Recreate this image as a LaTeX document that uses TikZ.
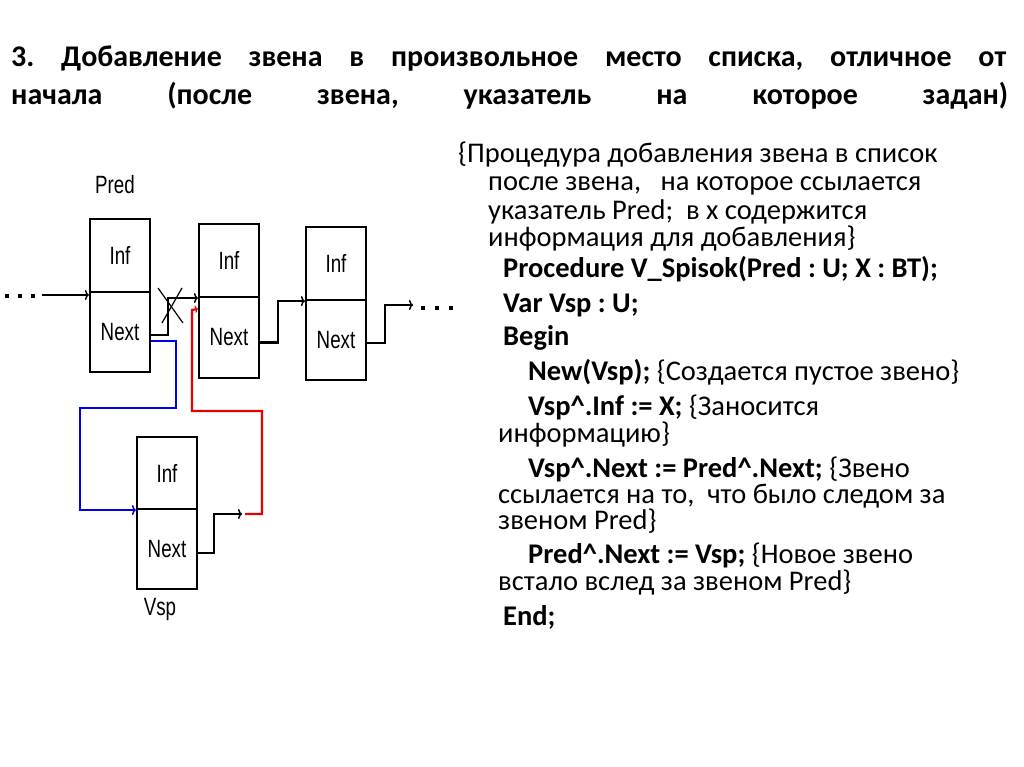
\documentclass[tikz,border=0pt]{standalone}
\usepackage{fontspec}
\setmainfont{Carlito}
\newfontfamily\diagfont{Liberation Sans}
\usetikzlibrary{arrows.meta}
\definecolor{bluel}{RGB}{0,0,230}
\definecolor{redl}{RGB}{230,0,0}
\frenchspacing
\begin{document}
\begin{tikzpicture}[x=1pt,y=-1pt,
  cell/.style={draw, line width=2.2pt, minimum width=60pt, inner sep=0pt,
    font=\diagfont\fontsize{25}{25}\selectfont},
  lbl/.style={inner sep=0pt, font=\diagfont\fontsize{25}{25}\selectfont},
  conn/.style={line width=2.2pt},
  arr/.style={conn, -{To[length=4pt,width=10pt,line width=1.5pt]}},
  crossl/.style={line width=1.2pt},
  body/.style={anchor=base west, inner sep=0pt, font=\fontsize{28.5}{28.5}\selectfont},
  dot/.style={fill=black, inner sep=0pt, minimum size=4.5pt}]
\useasboundingbox (0,0) rectangle (1024,767);
\fill[white] (0,0) rectangle (1024,767);

% title
\node[anchor=base west, inner sep=0pt, font=\bfseries\fontsize{30}{30}\selectfont] (t1) at (11,67)
  {\makebox[995pt][s]{3. Добавление звена в произвольное место списка, отличное от}};
\node[anchor=base west, inner sep=0pt, font=\bfseries\fontsize{30}{30}\selectfont] (t2) at (11,105)
  {\makebox[997pt][s]{начала (после звена, указатель на которое задан)}};

% list nodes
\node[cell, minimum height=73pt] (pi) at (120,255.5) {\scalebox{0.75}[1]{Inf}};
\node[cell, minimum height=80pt] (pn) at (120,332) {\scalebox{0.75}[1]{Next}};
\node[cell, minimum height=73pt] (bi) at (229,260.5) {\scalebox{0.75}[1]{Inf}};
\node[cell, minimum height=81pt] (bn) at (229,337.5) {\scalebox{0.75}[1]{Next}};
\node[cell, minimum height=73pt] (ci) at (336,263.5) {\scalebox{0.75}[1]{Inf}};
\node[cell, minimum height=80pt] (cn) at (336,340) {\scalebox{0.75}[1]{Next}};
\node[cell, minimum height=72pt] (vi) at (167,473) {\scalebox{0.75}[1]{Inf}};
\node[cell, minimum height=80pt] (vn) at (167,549) {\scalebox{0.75}[1]{Next}};

\node[lbl] (predl) at (115,185) {\scalebox{0.75}[1]{Pred}};
\node[lbl] (vspl) at (160,609) {\scalebox{0.75}[1]{Vsp}};

% dots
\node[dot] (ld1) at (7,296) {};
\node[dot] (ld2) at (20,296) {};
\node[dot] (ld3) at (33,296) {};
\node[dot] (rd1) at (423,308) {};
\node[dot] (rd2) at (437,308) {};
\node[dot] (rd3) at (451,308) {};

\coordinate (lin) at (42,295);
\coordinate (rout) at (413,305);
\coordinate (vend) at (242,514);
\coordinate (rstart) at (245,514);

% connectors
\draw[arr] (lin) -- (lin -| pi.west);
\draw[arr] ([yshift=-3pt]pn.east) -- (168,335) |- (bi.south west);
\draw[crossl] (158,288) -- (183,323);
\draw[crossl] (182,288) -- (162,323);
\draw[arr] ([yshift=-5pt]bn.east) -- (278,342.5) |- (ci.south west);
\draw[arr] ([yshift=-3pt]cn.east) -- (385,343) |- (rout);
\draw[arr, bluel] ([yshift=-9pt]pn.east) -- (176,341) -- (176,408) -- (80,408) |- (vi.south west);
\draw[arr] ([yshift=-4pt]vn.east) -- (214,553) |- (vend);
\draw[conn, redl, -{To[length=3pt,width=7pt,line width=1.2pt]}] (rstart) -- (262,514) -- (262,411) -- (192,411) -- (192,310) -- ([yshift=-13pt]bn.north west);

% code text
\node[body] (l1) at (458,163) {\{Процедура добавления звена в список};
\node[body] (l2) at (488,191) {после звена, \ \ на которое ссылается};
\node[body] (l3) at (488,219) {указатель Pred; \ в х содержится};
\node[body] (l4) at (488,246) {информация для добавления\}};
\node[body] (l5) at (503,277) {\textbf{Procedure V\_Spisok(Pred : U; X : BT);}};
\node[body] (l6) at (503,312) {\textbf{Var Vsp : U;}};
\node[body] (l7) at (503,345) {\textbf{Begin}};
\node[body] (l8) at (528,380) {\textbf{New(Vsp);} \{Создается пустое звено\}};
\node[body] (l9) at (528,415) {\textbf{Vsp\^{}.Inf := X;} \{Заносится};
\node[body] (l10) at (498,442) {информацию\}};
\node[body] (l11) at (528,477) {\textbf{Vsp\^{}.Next := Pred\^{}.Next;} \{Звено};
\node[body] (l12) at (498,503) {ссылается на то, \ что было следом за};
\node[body] (l13) at (498,529) {звеном Pred\}};
\node[body] (l14) at (528,563) {\textbf{Pred\^{}.Next := Vsp;} \{Новое звено};
\node[body] (l15) at (498,590) {встало вслед за звеном Pred\}};
\node[body] (l16) at (503,625) {\textbf{End;}};
\end{tikzpicture}
\end{document}
